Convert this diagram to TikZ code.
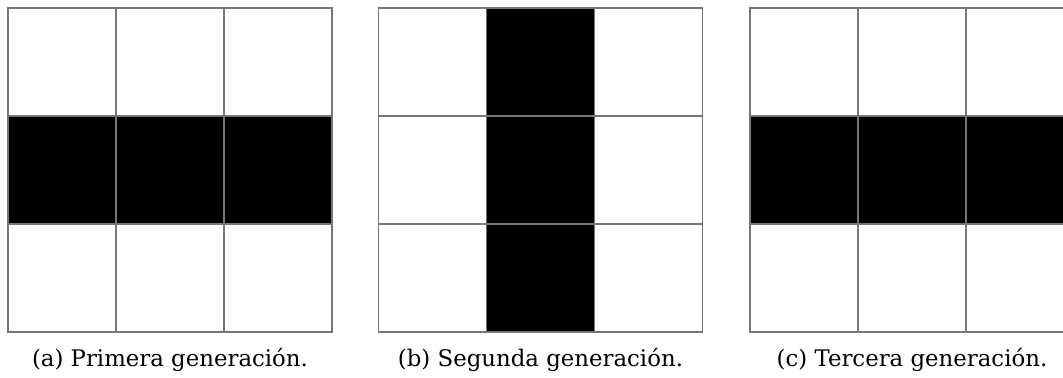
\documentclass[tikz,border=0pt]{standalone}
\usepackage{fontspec}
\setmainfont{DejaVu Serif}
\usetikzlibrary{positioning}
\definecolor{gridline}{HTML}{777777}
\tikzset{
  cellbox/.style={draw=gridline,line width=1.1pt},
  livecell/.style={cellbox,fill=black},
  caption/.style={font=\fontsize{13}{15}\selectfont,anchor=center}
}
\begin{document}
\begin{tikzpicture}[x=0.02cm,y=-0.02cm]
  \useasboundingbox (0,0) rectangle (1063,378);
  \begin{scope}
    \clip (0,0) rectangle (1063,378);
    % (a) middle row, (b) middle column, (c) middle row
    \foreach \ox/\kind in {8/row,378.5/col,750/row}{
      \foreach \i in {0,1,2}{
        \foreach \j in {0,1,2}{
          \ifnum\j=1 \def\live{row}\else\def\live{none}\fi
          \ifnum\i=1 \edef\livec{col}\else\def\livec{none}\fi
          \pgfmathsetmacro{\cx}{\ox+108*\i}
          \pgfmathsetmacro{\cy}{8+108*\j}
          \ifx\kind\live
            \draw[livecell] (\cx,\cy) rectangle ++(108,108);
          \else\ifx\kind\livec
            \draw[livecell] (\cx,\cy) rectangle ++(108,108);
          \else
            \draw[cellbox] (\cx,\cy) rectangle ++(108,108);
          \fi\fi
        }
      }
    }
  \end{scope}
  \node[caption] (capa) at (170,360) {(a) Primera generación.};
  \node[caption] (capb) at (540.5,360) {(b) Segunda generación.};
  \node[caption] (capc) at (912,360) {(c) Tercera generación.};
\end{tikzpicture}
\end{document}
